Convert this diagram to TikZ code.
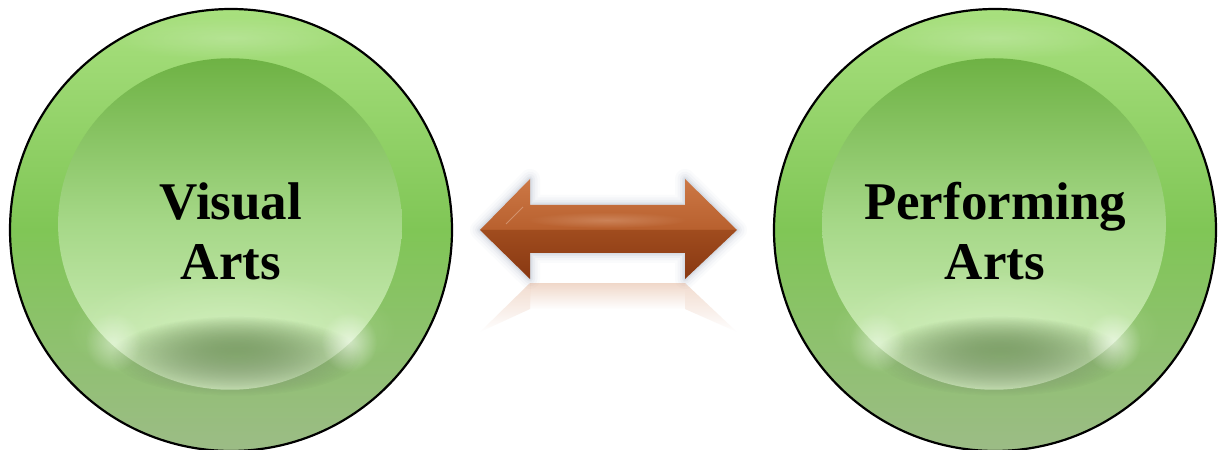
\documentclass[tikz,border=0pt]{standalone}
\usepackage{fontspec}
\setmainfont{Liberation Serif}
\usetikzlibrary{fadings}
\definecolor{ringtop}{HTML}{A8E07E}
\definecolor{ringmid}{HTML}{80C656}
\definecolor{ringbot}{HTML}{9CBC86}
\definecolor{disctop}{HTML}{6EB244}
\definecolor{discmid}{HTML}{A6D888}
\definecolor{discbot}{HTML}{D4F0C0}
\definecolor{discshade}{HTML}{9CC486}
\definecolor{arrhi}{HTML}{CC7846}
\definecolor{arrup}{HTML}{B8602E}
\definecolor{arrlo}{HTML}{A04C1E}
\definecolor{arrbot}{HTML}{883812}
\definecolor{glow}{HTML}{94A4B8}
\tikzfading[name=softfade, inner color=transparent!0, outer color=transparent!100]
\tikzset{
  ringshade/.style={top color=ringtop, bottom color=ringbot, middle color=ringmid},
  discshade/.style={top color=disctop, bottom color=discbot, middle color=discmid},
  label/.style={font=\bfseries\fontsize{53}{60}\selectfont, align=center, text=black, inner sep=0pt},
  btn/.style={circle, draw=black, line width=2.2pt, minimum size=#1, inner sep=0pt}
}
\newcommand\glossybutton[5]{% cx, cy, r, name, text
  \shade[ringshade] (#1,#2) circle[radius=#3];
  \fill[white, path fading=softfade, opacity=0.2] (#1,#2+192) ellipse[x radius=120, y radius=22];
  \shade[discshade] (#1-1,#2+6) ellipse[x radius=#3*0.778, y radius=#3*0.75];
  \fill[discbot, path fading=softfade, opacity=0.7]
     (#1,#2-100) ellipse[x radius=165, y radius=60];
  \fill[discshade, path fading=softfade, opacity=0.6]
     (#1+5,#2-126) ellipse[x radius=125, y radius=40];
  \fill[white, path fading=softfade, opacity=0.55]
     (#1+118,#2-112) ellipse[x radius=28, y radius=30];
  \fill[white, path fading=softfade, opacity=0.4]
     (#1-118,#2-112) ellipse[x radius=28, y radius=30];
  \node[btn=2*#3] (#4) at (#1,#2) {};
  \node[label] (#4text) at (#1,#2-1) {#5};
}
\begin{document}
\begin{tikzpicture}[x=1pt,y=1pt]
\useasboundingbox (0,0) rectangle (1219,450);
\fill[white] (0,0) rectangle (1219,450);

\glossybutton{231}{220}{221}{visual}{Visual\\Arts}
\glossybutton{995}{220}{221}{performing}{Performing\\Arts}

% arrow glow
\foreach \w/\o in {20/0.04,15/0.06,10/0.08,6/0.10,3/0.14}{
  \draw[glow, line width=\w pt, opacity=\o, line join=round]
    (480,220) -- (530,271) -- (530,245) -- (685,245) -- (685,271) -- (737,220)
    -- (685,171) -- (685,197) -- (530,197) -- (530,171) -- cycle;
}
% reflection
\fill[arrhi!65!white, path fading=south, fill opacity=0.45]
    (530,167) -- (685,167) -- (685,141) -- (530,141) -- cycle;
\fill[arrhi!65!white, path fading=south, fill opacity=0.4]
    (480,118) -- (530,167) -- (530,141) -- cycle;
\fill[arrhi!65!white, path fading=south, fill opacity=0.4]
    (737,118) -- (685,167) -- (685,141) -- cycle;

% arrow body: upper (lighter) half
\shade[top color=arrhi, bottom color=arrup]
    (480,220) -- (530,271) -- (530,245) -- (685,245) -- (685,271) -- (737,220) -- cycle;
% arrow body: lower (darker) half
\shade[top color=arrlo, bottom color=arrbot]
    (480,220) -- (530,171) -- (530,197) -- (685,197) -- (685,171) -- (737,220) -- cycle;
% bevel highlight on shaft
\fill[arrhi!70!white, path fading=softfade, opacity=0.5] (607,230) ellipse[x radius=80, y radius=8];
\draw[arrhi!50!white, line width=0.8pt, opacity=0.5] (506,226) -- (523,243);
\end{tikzpicture}
\end{document}
